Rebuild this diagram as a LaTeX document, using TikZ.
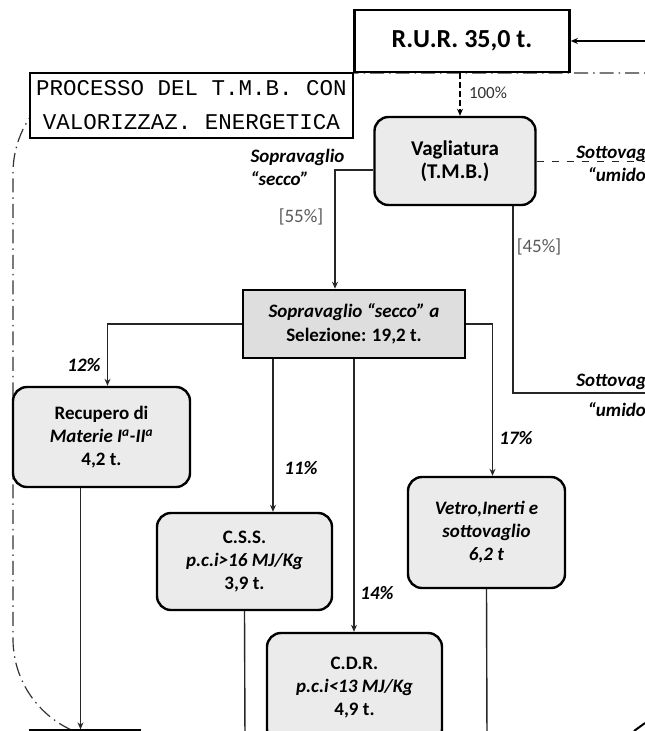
\documentclass[tikz,border=0pt]{standalone}
\usepackage{fontspec}
\setmainfont{Carlito}
\newfontfamily\handfont{Liberation Mono}
\usetikzlibrary{positioning,arrows.meta}

\begin{document}
\begin{tikzpicture}[x=1pt,y=-1pt,>={Stealth[length=7pt,width=6pt]},
		stepbox/.style={draw,line width=2.4pt,rounded corners=14pt,fill=gray!16,align=center,inner sep=0pt,
			font=\bfseries\fontsize{19}{23}\selectfont},
		selbox/.style={draw,line width=2.6pt,fill=gray!26,align=center,inner sep=0pt,
			minimum width=222pt,minimum height=68pt,font=\bfseries\fontsize{19}{24}\selectfont},
		flow/.style={draw=black!85,line width=1.4pt},
		pct/.style={font=\bfseries\itshape\fontsize{19}{22}\selectfont},
		pctgrey/.style={text=black!65,font=\fontsize{19}{22}\selectfont},
		side/.style={align=center,font=\bfseries\itshape\fontsize{19}{23}\selectfont},
		boundary/.style={draw=black!80,line width=1.2pt,rounded corners=100pt,
			dash pattern=on 14pt off 5pt on 1.5pt off 5pt}]

		\clip (0,0) rectangle (645,731);

		% confine del processo
		\draw [boundary] (690,73) -- (13,73) -- (13,739) -- (690,739);

		\node [draw,line width=1.3pt,fill=white,minimum width=323pt,minimum height=65pt,align=center,inner sep=0pt,
			font=\handfont\fontsize{22.5}{34}\selectfont] (title) at (191.5,105.5)
			{PROCESSO DEL T.M.B. CON\\VALORIZZAZ. ENERGETICA};

		\node [draw,line width=2.6pt,fill=white,minimum width=215pt,minimum height=62pt,
			font=\bfseries\fontsize{26}{30}\selectfont] (rur) at (462,41) {R.U.R. 35,0 t.};

		\begin{scope}[every node/.style={stepbox}]
			\node [minimum width=161pt,minimum height=88pt] (vag) at (455,161)
				{\fontsize{21}{25}\selectfont Vagliatura\\\fontsize{21}{25}\selectfont (T.M.B.)};
			\node [minimum width=177pt,minimum height=100pt] (rec) at (101.5,437)
				{Recupero di\\\textit{Materie I\textsuperscript{a}-II\textsuperscript{a}}\\4,2 t.};
			\node [minimum width=175pt,minimum height=97pt] (css) at (244.5,561.5)
				{C.S.S.\\\textit{p.c.i>16 MJ/Kg}\\3,9 t.};
			\node [minimum width=157pt,minimum height=111pt] (vetro) at (486.5,532.5)
				{\textit{Vetro,Inerti e}\\\textit{sottovaglio}\\\textit{6,2 t}};
			\node [minimum width=175pt,minimum height=110pt] (cdr) at (354.5,688)
				{C.D.R.\\\textit{p.c.i<13 MJ/Kg}\\4,9 t.};
		\end{scope}

		\node [selbox] (sel) at (354,324) {\textit{Sopravaglio “secco” a}\\Selezione: 19,2 t.};

		\node [draw,line width=1.3pt,minimum width=110pt,minimum height=60pt] (next) at (85,760) {};

		\coordinate (input) at (645,41);
		\coordinate (umidoA) at (645,161);
		\coordinate (umidoB) at (645,393);
		\coordinate (cssout) at (245,740);
		\coordinate (vetroout) at (487,740);
		\coordinate (markA) at (634,731);
		\coordinate (markB) at (645,723);

		% ingresso e vagliatura
		\draw [->,line width=2pt] (input) -- (rur.east);
		\draw [->,line width=2.4pt,dash pattern=on 6pt off 3pt] ([xshift=-2pt]rur.south) -- ([xshift=-2pt]rur.south |- vag.north);
		\node [pctgrey,text=black!80,font=\fontsize{17}{20}\selectfont] (p100) at (488,93) {100\%};

		\draw [flow,->] ([yshift=-9pt]vag.west) -| ([xshift=-19pt]sel.north);
		\draw [flow,line width=1pt,dash pattern=on 7pt off 8pt] (vag.east) -- (umidoA);
		\draw [flow] ([xshift=58pt]vag.south) |- (umidoB);

		\node [side,align=left,anchor=west] (sopra) at (247,167) {Sopravaglio\\“secco”};
		\node [pctgrey] (p55) at (301,217) {[55\%]};
		\node [side] (sotto1) at (621,163) {Sottovaglio\\“umido”};
		\node [pctgrey] (p45) at (539,247) {[45\%]};
		\node [side,font=\bfseries\itshape\fontsize{19}{30}\selectfont] (sotto2) at (621,395) {Sottovaglio\\“umido”};

		% selezione
		\draw [flow,->] (sel.west) -| ([xshift=6pt]rec.north);
		\draw [flow,->] ([xshift=-81pt]sel.south) -- ([xshift=-81pt]sel.south |- css.north);
		\draw [flow,->] (sel.south) -- (sel.south |- cdr.north);
		\draw [flow,->] (sel.east) -| ([xshift=6pt]vetro.north);

		\node [pct] (p12) at (84,365) {12\%};
		\node [pct] (p11) at (301,468) {11\%};
		\node [pct] (p14) at (377,593) {14\%};
		\node [pct] (p17) at (516,438) {17\%};

		% uscite
		\draw [flow,->] ([xshift=-21pt]rec.south) -- ([xshift=-21pt]rec.south |- next.north);
		\draw [flow] (css.south) -- (cssout);
		\draw [flow] (vetro.south) -- (vetroout);
		\draw [line width=2pt] (markA) -- (markB);

	\end{tikzpicture}
\end{document}
